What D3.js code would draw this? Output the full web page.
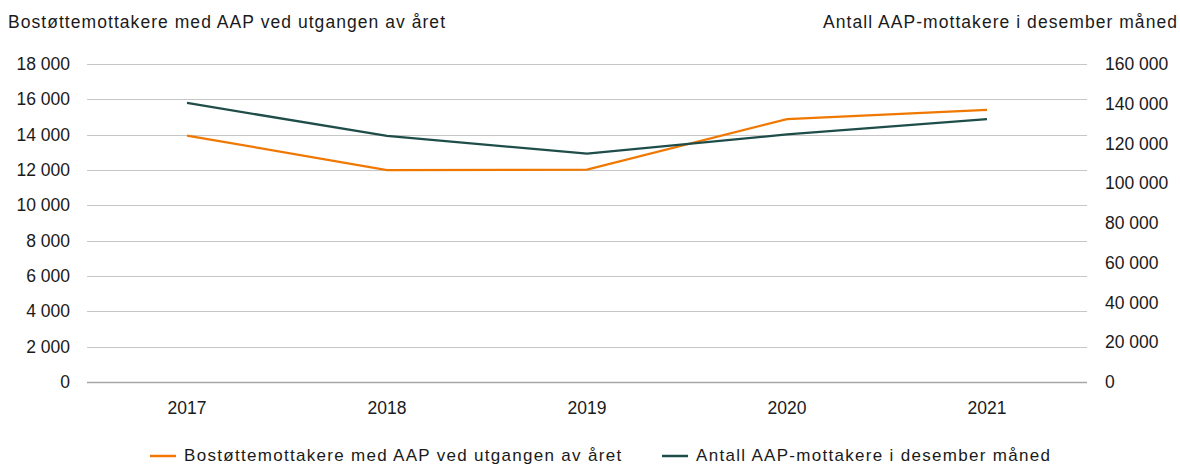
<!DOCTYPE html>
<html>
<head>
<meta charset="utf-8">
<script src="https://cdn.jsdelivr.net/npm/d3@7"></script>
<style>
  body { margin: 0; background: #fff; }
  text { font-family: "Liberation Sans", Arial, sans-serif; fill: #1a1a1a; font-size: 17.5px; }
  .wide { letter-spacing: 1.05px; }
  .legend-text { letter-spacing: 1.3px; font-size: 17px; }
</style>
</head>
<body>
<script>
var width = 1180,
  height = 465

var years = ['2017', '2018', '2019', '2020', '2021']
var bostotte = [13950, 12000, 12020, 14880, 15400]
var aapMottakere = [140400, 123800, 114900, 124600, 132300]
var leftTicks = [0, 2000, 4000, 6000, 8000, 10000, 12000, 14000, 16000, 18000]
var rightTicks = [0, 20000, 40000, 60000, 80000, 100000, 120000, 140000, 160000]
var seriesNames = ['Bostøttemottakere med AAP ved utgangen av året', 'Antall AAP-mottakere i desember måned']
var colors = ['#f07800', '#1e4d4a']

var margin = {left: 87, right: 93, top: 64, bottom: 83}

var fmt = function (d) { return d3.format(',')(d).replace(/,/g, ' ') }

var x = d3.scaleBand()
  .domain(years)
  .range([margin.left, width - margin.right])

var yLeft = d3.scaleLinear()
  .domain([0, 18000])
  .range([height - margin.bottom, margin.top])

var yRight = d3.scaleLinear()
  .domain([0, 160000])
  .range([height - margin.bottom, margin.top])

var svg = d3.select('body').append('svg')
  .attr('width', width)
  .attr('height', height)

// gridlines
svg.append('g')
  .selectAll('line')
  .data(leftTicks)
  .enter().append('line')
  .attr('x1', margin.left)
  .attr('x2', width - margin.right)
  .attr('y1', function (d) { return Math.round(yLeft(d)) + 0.5 })
  .attr('y2', function (d) { return Math.round(yLeft(d)) + 0.5 })
  .attr('stroke', function (d) { return d === 0 ? '#a6a6a6' : '#c6c6c6' })
  .attr('stroke-width', function (d) { return d === 0 ? 1.5 : 1 })

// left axis labels
svg.append('g')
  .selectAll('text')
  .data(leftTicks)
  .enter().append('text')
  .attr('x', 70)
  .attr('y', function (d) { return yLeft(d) })
  .attr('dy', '0.35em')
  .attr('text-anchor', 'end')
  .text(fmt)

// right axis labels
svg.append('g')
  .selectAll('text')
  .data(rightTicks)
  .enter().append('text')
  .attr('x', 1105)
  .attr('y', function (d) { return yRight(d) })
  .attr('dy', '0.35em')
  .attr('text-anchor', 'start')
  .text(fmt)

// x labels
svg.append('g')
  .selectAll('text')
  .data(years)
  .enter().append('text')
  .attr('x', function (d) { return x(d) + x.bandwidth() / 2 })
  .attr('y', 414)
  .attr('text-anchor', 'middle')
  .text(function (d) { return d })

// titles
svg.append('text')
  .attr('class', 'wide')
  .attr('x', 8)
  .attr('y', 28)
  .text(seriesNames[0])

svg.append('text')
  .attr('class', 'wide')
  .attr('x', 1178)
  .attr('y', 28)
  .attr('text-anchor', 'end')
  .text(seriesNames[1])

// lines
var lineLeft = d3.line()
  .x(function (d, i) { return x(years[i]) + x.bandwidth() / 2 })
  .y(function (d) { return yLeft(d) })

var lineRight = d3.line()
  .x(function (d, i) { return x(years[i]) + x.bandwidth() / 2 })
  .y(function (d) { return yRight(d) })

svg.append('path')
  .datum(bostotte)
  .attr('d', lineLeft)
  .attr('fill', 'none')
  .attr('stroke', colors[0])
  .attr('stroke-width', 2.25)

svg.append('path')
  .datum(aapMottakere)
  .attr('d', lineRight)
  .attr('fill', 'none')
  .attr('stroke', colors[1])
  .attr('stroke-width', 2.25)

// legend
var legendX = [150, 662]
var legend = svg.append('g')
  .selectAll('g')
  .data(seriesNames)
  .enter().append('g')
  .attr('transform', function (d, i) { return 'translate(' + legendX[i] + ',456)' })

legend.append('line')
  .attr('x1', 0)
  .attr('x2', 26)
  .attr('stroke', function (d, i) { return colors[i] })
  .attr('stroke-width', 2.5)

legend.append('text')
  .attr('class', 'legend-text')
  .attr('x', 34)
  .attr('y', 5)
  .text(function (d) { return d })
</script>
</body>
</html>
